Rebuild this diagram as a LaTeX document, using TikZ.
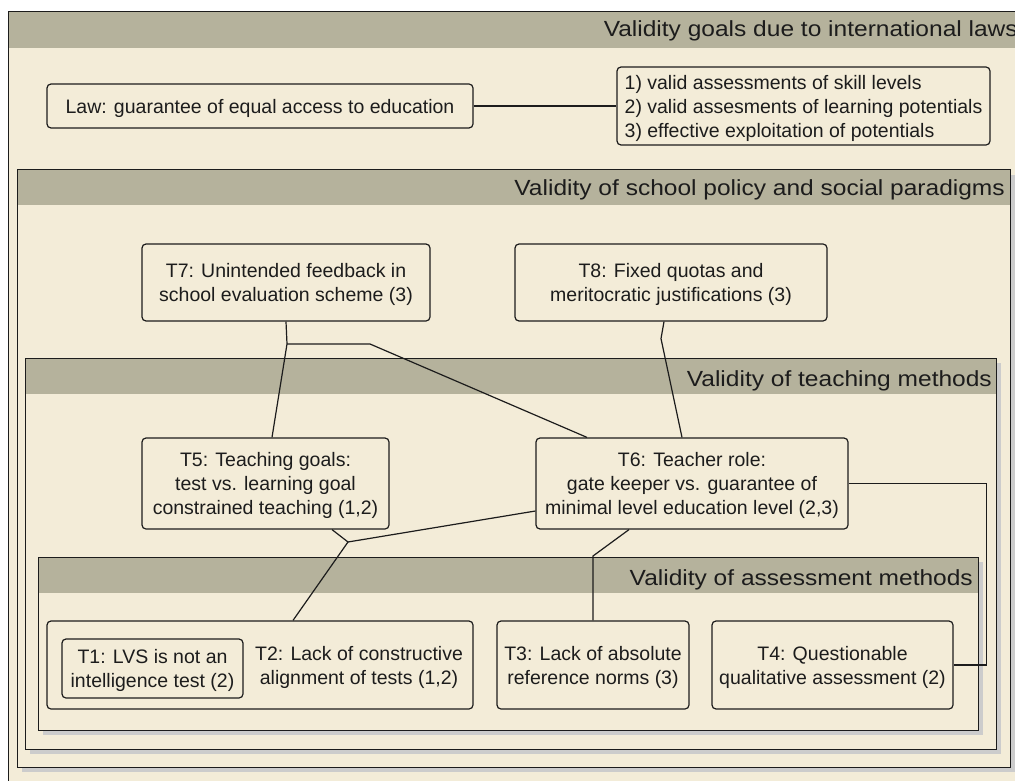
\documentclass[tikz,border=0pt]{standalone}
\usepackage{fontspec}
\setmainfont{Liberation Sans}
\newfontfamily\titlefont[FakeStretch=1.12]{Liberation Sans}
\usetikzlibrary{calc}

\definecolor{bandgray}{RGB}{181,178,156}
\definecolor{paper}{RGB}{243,236,216}
\definecolor{shadowgray}{RGB}{204,204,204}
\definecolor{ink}{RGB}{28,28,28}

\begin{document}
\begin{tikzpicture}[x=1pt,y=-1pt,
    framebox/.style={draw=ink,line width=1pt},
    frametitle/.style={anchor=base east,inner sep=0pt,text=ink,
      font=\titlefont\fontsize{21.9}{26}\selectfont},
    item/.style={draw=ink,fill=paper,rounded corners=4pt,line width=1.2pt,
      align=center,text=ink,inner sep=0pt,text depth=0pt,
      font=\fontsize{19.5}{24}\selectfont},
    itemtext/.style={align=center,text=ink,inner sep=0pt,
      font=\fontsize{19.5}{24}\selectfont},
    link/.style={draw=ink,line width=1.2pt}]
  \useasboundingbox (0,0) rectangle (1015,781);
  \clip (0,0) rectangle (1015,781);

  % frame: international laws
  \fill[paper] (8,12) rectangle (1040,800);
  \fill[bandgray] (8,12) rectangle (1040,48);
  \draw[framebox] (8,12) rectangle (1040,800);
  \node[frametitle] (lawstitle) at (1018,37) {Validity goals due to international laws};

  % frame: school policy
  \fill[shadowgray] (22,175) rectangle (1015,772);
  \fill[paper] (17,170) rectangle (1010,767);
  \fill[bandgray] (17,170) rectangle (1010,205);
  \draw[framebox] (17,170) rectangle (1010,767);
  \node[frametitle] (policytitle) at (1005,196) {Validity of school policy and social paradigms};

  % frame: teaching methods
  \fill[shadowgray] (30,363) rectangle (1001,754);
  \fill[paper] (25,358) rectangle (996,749);
  \fill[bandgray] (25,358) rectangle (996,394);
  \draw[framebox] (25,358) rectangle (996,749);
  \node[frametitle] (teachtitle) at (992,386) {Validity of teaching methods};

  % frame: assessment methods
  \fill[shadowgray] (43,562) rectangle (983,735);
  \fill[paper] (38,557) rectangle (978,730);
  \fill[bandgray] (38,557) rectangle (978,593);
  \draw[framebox] (38,557) rectangle (978,730);
  \node[frametitle] (assesstitle) at (973,585) {Validity of assessment methods};

  % law and goals
  \node[item,minimum width=426,minimum height=44] (law) at (260,106)
    {Law: guarantee of equal access to education};
  \node[item,minimum width=373,minimum height=78,align=left] (goals) at (803.5,106)
    {1) valid assessments of skill levels\\
     2) valid assesments of learning potentials\\
     3) effective exploitation of potentials};

  % school policy
  \node[item,minimum width=288,minimum height=77] (t7) at (286,282.5)
    {T7: Unintended feedback in\\school evaluation scheme (3)};
  \node[item,minimum width=312,minimum height=77] (t8) at (671,282.5)
    {T8: Fixed quotas and\\meritocratic justifications (3)};

  % teaching methods
  \node[item,minimum width=247,minimum height=91] (t5) at (265.5,483.5)
    {T5: Teaching goals:\\test vs. learning goal\\constrained teaching (1,2)};
  \node[item,minimum width=312,minimum height=91] (t6) at (692,483.5)
    {T6: Teacher role:\\gate keeper vs. guarantee of\\minimal level education level (2,3)};

  % assessment methods
  \node[item,minimum width=426,minimum height=88] (t2) at (260,665) {};
  \node[itemtext] (t2text) at (359,667)
    {T2: Lack of constructive\\alignment of tests (1,2)};
  \node[item,minimum width=181,minimum height=59] (t1) at (152.5,668.5)
    {T1: LVS is not an\\intelligence test (2)};
  \node[item,minimum width=192,minimum height=88] (t3) at (593,665)
    {T3: Lack of absolute\\reference norms (3)};
  \node[item,minimum width=241,minimum height=88] (t4) at (832.5,665)
    {T4: Questionable\\qualitative assessment (2)};

  % links
  \coordinate (t7split) at (287,344);
  \coordinate (t7bend) at (370,344);
  \coordinate (t2split) at (348,542);
  \coordinate (t3bend) at (593,556);
  \draw[link] (law) -- (goals);
  \draw[link] (t7.south) -- (t7split) -- ([xshift=6.5]t5.north);
  \draw[link] (t7split) -- (t7bend) -- ([xshift=-105]t6.north);
  \draw[link] ([xshift=-7]t8.south) -- ++(-3,17) -- ([xshift=-10]t6.north);
  \draw[link] ([xshift=66.5]t5.south) -- (t2split) -- ([xshift=33]t2.north);
  \draw[link] ([yshift=-27.5]t6.west) -- (t2split);
  \draw[link] ([xshift=-63]t6.south) -- (t3bend) -- (t3.north);
  \draw[link] (t6.east) -- ++(138,0) |- (t4.east);
\end{tikzpicture}
\end{document}
